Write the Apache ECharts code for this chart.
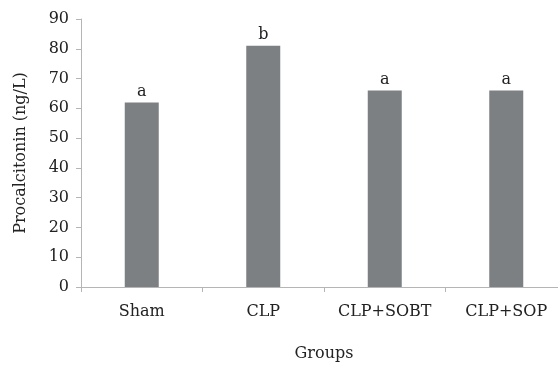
<!DOCTYPE html>
<html>
<head>
<meta charset="utf-8">
<script src="https://cdn.jsdelivr.net/npm/echarts@6/dist/echarts.min.js"></script>
<style>
html,body{margin:0;padding:0;background:#fff;}
#chart{width:558px;height:365px;}
</style>
</head>
<body>
<div id="chart"></div>
<script>
var categories = ["Sham", "CLP", "CLP+SOBT", "CLP+SOP"];
var values = [62, 81, 66, 66];
var letters = ["a", "b", "a", "a"];
var yTicks = [0, 10, 20, 30, 40, 50, 60, 70, 80, 90];

var font = "DejaVu Serif";
var chart = echarts.init(document.getElementById('chart'));
chart.setOption({
  animation: false,
  backgroundColor: '#ffffff',
  grid: { left: 81, top: 19, width: 486, height: 268, containLabel: false, outerBoundsMode: 'none' },
  xAxis: {
    type: 'category',
    data: categories,
    name: 'Groups',
    nameLocation: 'middle',
    nameGap: 59,
    nameTextStyle: { fontFamily: font, fontSize: 16, color: '#222' },
    axisLine: { lineStyle: { color: '#b5b5b5', width: 1 } },
    axisTick: { show: true, interval: 0, length: 5, lineStyle: { color: '#b5b5b5' } },
    axisLabel: { interval: 0, hideOverlap: false, fontFamily: font, fontSize: 16, color: '#222', margin: 17 }
  },
  yAxis: {
    type: 'value',
    min: yTicks[0],
    max: yTicks[yTicks.length - 1],
    interval: 10,
    name: 'Procalcitonin (ng/L)',
    nameLocation: 'middle',
    nameGap: 52,
    nameTextStyle: { fontFamily: font, fontSize: 16, color: '#222' },
    axisLine: { show: true, lineStyle: { color: '#b5b5b5', width: 1 } },
    axisTick: { show: true, length: 5, lineStyle: { color: '#b5b5b5' } },
    splitLine: { show: false },
    axisLabel: { fontFamily: font, fontSize: 16, color: '#222', margin: 12 }
  },
  series: [{
    type: 'bar',
    data: values,
    barWidth: 34,
    itemStyle: { color: '#7d8083' },
    label: {
      show: true,
      position: 'top',
      distance: 3,
      fontFamily: font,
      fontSize: 16,
      color: '#222',
      formatter: function (p) { return letters[p.dataIndex]; }
    }
  }]
});
</script>
</body>
</html>
